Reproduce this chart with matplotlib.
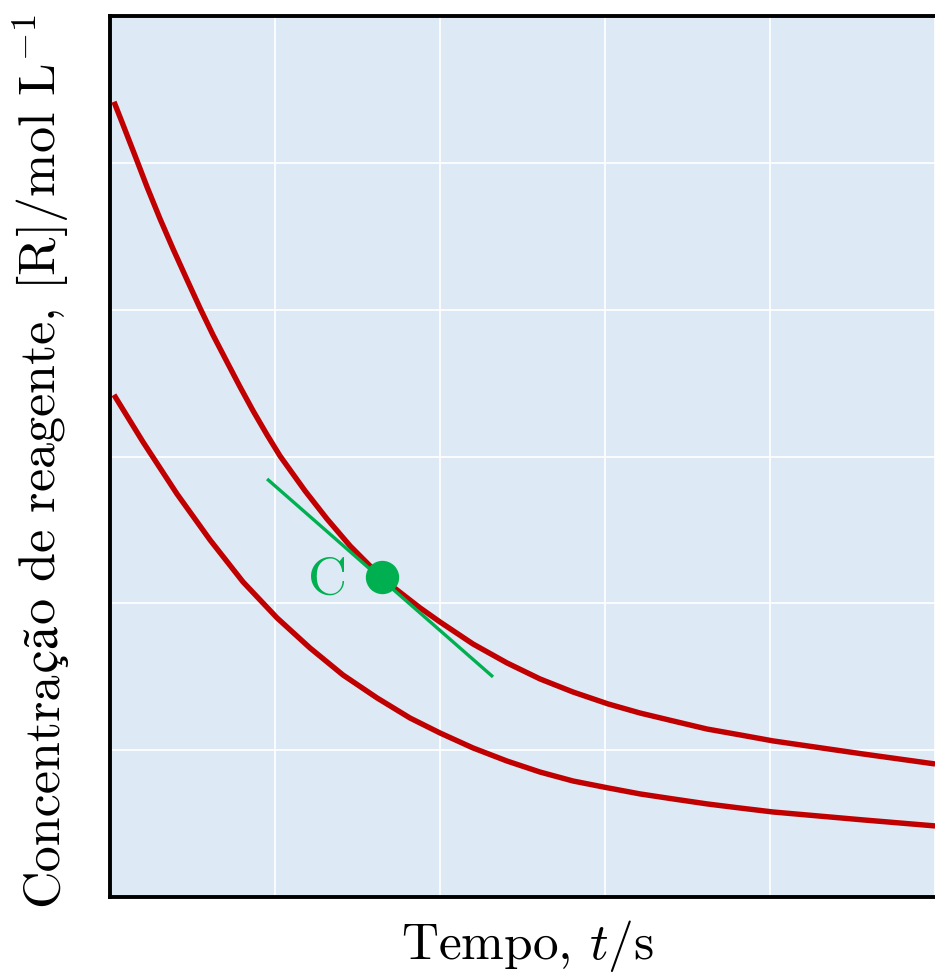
import matplotlib
matplotlib.use('Agg')
import matplotlib.pyplot as plt

# concentration curves read at sample times (t in grid units)
t_upper = [0.024, 0.079, 0.152, 0.224, 0.303, 0.382, 0.467, 0.545, 0.624,
           0.709, 0.788, 0.867, 0.952, 1.030, 1.182, 1.315, 1.455, 1.594,
           1.715, 1.879, 2.000, 2.200, 2.406, 2.606, 2.806, 3.018, 3.212,
           3.412, 3.618, 3.818, 4.018, 4.564, 5.000]
r_upper = [5.416, 5.259, 5.048, 4.837, 4.619, 4.414, 4.203, 4.012, 3.828,
           3.644, 3.474, 3.311, 3.147, 3.004, 2.766, 2.575, 2.391, 2.234,
           2.112, 1.969, 1.873, 1.723, 1.594, 1.485, 1.396, 1.315, 1.253,
           1.199, 1.144, 1.104, 1.063, 0.974, 0.906]

t_lower = [0.024, 0.200, 0.406, 0.606, 0.806, 1.012, 1.212, 1.412, 1.618,
           1.818, 2.000, 2.200, 2.406, 2.606, 2.806, 3.018, 3.212, 3.412,
           3.618, 3.818, 4.018, 4.564, 5.000]
r_lower = [3.420, 3.099, 2.745, 2.432, 2.146, 1.901, 1.696, 1.512, 1.356,
           1.219, 1.117, 1.015, 0.926, 0.851, 0.790, 0.743, 0.702, 0.668,
           0.634, 0.606, 0.579, 0.525, 0.484]

# point C and its tangent
point_c = (1.648, 2.180)
tangent_t = [0.952, 2.321]
tangent_r = [2.847, 1.499]

# y label split so the accented letters come from a font that has them
ylabel_parts = ['Concentra', 'ç', 'ã', r'o de reagente, [R]/mol $\mathrm{L}^{-1}$']
ylabel_fonts = ['cmr10', 'STIXGeneral', 'STIXGeneral', 'cmr10']

RED = '#c00000'
GREEN = '#00b050'
BG = '#dde9f5'
W, H = 935, 976
YFS = 37.5

plt.rcParams['mathtext.fontset'] = 'cm'
plt.rcParams['font.family'] = ['cmr10', 'STIXGeneral']
plt.rcParams['axes.unicode_minus'] = False

fig = plt.figure(figsize=(W / 100, H / 100), dpi=100)
ax = fig.add_axes([110 / W, 79 / H, 835 / W, 881 / H])
ax.set_facecolor(BG)

ax.plot(t_upper, r_upper, color=RED, lw=3.9, solid_capstyle='butt',
        solid_joinstyle='round', zorder=3)
ax.plot(t_lower, r_lower, color=RED, lw=3.9, solid_capstyle='butt',
        solid_joinstyle='round', zorder=3)
ax.plot(tangent_t, tangent_r, color=GREEN, lw=2.4, solid_capstyle='butt', zorder=4)
ax.plot(*point_c, 'o', color=GREEN, ms=23, zorder=5)
ax.text(point_c[0] - 0.33, point_c[1] - 0.02, 'C', color=GREEN, fontsize=39,
        ha='center', va='center', zorder=5)

ax.set_xlim(0, 5.06)
ax.set_ylim(0, 6)
ax.set_xticks([1, 2, 3, 4, 5])
ax.set_yticks([1, 2, 3, 4, 5])
ax.tick_params(length=0, labelbottom=False, labelleft=False)
ax.grid(True, color='white', lw=1.2)
ax.set_axisbelow(True)

for side in ['left', 'bottom', 'top']:
    ax.spines[side].set_linewidth(2.8)
    ax.spines[side].set_color('black')
ax.spines['right'].set_visible(False)

ax.set_xlabel(r'Tempo, $t$/s', fontsize=37, labelpad=15)

renderer = fig.canvas.get_renderer()


def text_width(s, family):
    t = fig.text(0, 0, s, fontsize=YFS, family=family)
    w = t.get_window_extent(renderer).width
    t.remove()
    return w


# advance of each piece, measured against a trailing reference glyph
advances = [text_width(p + '|', f) - text_width('|', f)
            for p, f in zip(ylabel_parts, ylabel_fonts)]
total = sum(advances[:-1]) + text_width(ylabel_parts[-1], ylabel_fonts[-1])

x_base = 57
y_pos = (H - 460) - total / 2
for part, fam, adv in zip(ylabel_parts, ylabel_fonts, advances):
    fig.text(x_base / W, y_pos / H, part, rotation=90, rotation_mode='anchor',
             ha='left', va='baseline', fontsize=YFS, family=fam)
    y_pos += adv

fig.savefig('out.png', dpi=100)
